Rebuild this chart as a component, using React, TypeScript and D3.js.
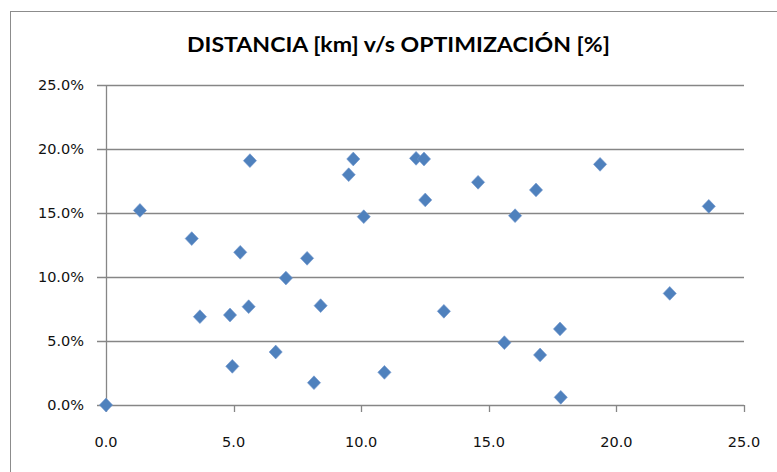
import React from "react";
import * as d3 from "d3";

const distanceKm: number[] = [
  0, 1.33, 3.36, 5.26, 7.88, 7.05, 3.68, 4.86, 5.59, 8.41, 6.65, 4.95, 8.15, 5.64, 9.69, 9.51,
  12.15, 12.46, 14.58, 12.51, 10.1, 16.03, 13.24, 15.61, 10.91, 19.36, 16.85, 23.62, 22.09, 17.79,
  17.01, 17.82,
];
const optimizationPct: number[] = [
  0, 15.2, 13.0, 11.93, 11.46, 9.92, 6.9, 7.03, 7.68, 7.76, 4.14, 3.02, 1.74, 19.09, 19.22, 17.99,
  19.27, 19.22, 17.4, 16.02, 14.71, 14.79, 7.32, 4.87, 2.55, 18.8, 16.8, 15.52, 8.72, 5.94, 3.91,
  0.6,
];
const xTicks: number[] = [0, 5, 10, 15, 20, 25];
const yTicks: number[] = [0, 5, 10, 15, 20, 25];
const title = "DISTANCIA [km] v/s OPTIMIZACIÓN [%]";

const W = 777;
const H = 472;
const plot = { left: 106, right: 744, top: 85, bottom: 405 };

export default function App() {
  const x = d3.scaleLinear().domain([0, 25]).range([plot.left, plot.right]);
  const y = d3.scaleLinear().domain([0, 25]).range([plot.bottom, plot.top]);
  const diamond = d3.symbol().type(d3.symbolDiamond2).size(110)();
  const points = distanceKm.map((d, i) => ({ d, p: optimizationPct[i] }));
  const axisColor = "#868686";
  const font = "'DejaVu Sans', sans-serif";

  return (
    <svg
      width={W}
      height={H}
      style={{ position: "absolute", left: 0, top: 0, background: "#fff" }}
    >
      <rect x={10.5} y={11.5} width={800} height={500} fill="#fff" stroke="#8c8c8c" strokeWidth={1} />
      <text
        x={398.5}
        y={52}
        textAnchor="middle"
        fontFamily="Lato, 'Open Sans', sans-serif"
        fontWeight="bold"
        fontSize={21}
        textLength={423}
        lengthAdjust="spacingAndGlyphs"
        fill="#000"
      >
        {title}
      </text>
      {yTicks.map((t) => (
        <g key={"y" + t}>
          <line
            x1={plot.left - 9}
            x2={plot.right}
            y1={Math.round(y(t)) + 0.5}
            y2={Math.round(y(t)) + 0.5}
            stroke={axisColor}
            strokeWidth={1.3}
          />
          <text
            x={84}
            y={y(t) + 5}
            textAnchor="end"
            fontFamily={font}
            fontSize={14.5}
            fill="#111"
          >
            {t.toFixed(1) + "%"}
          </text>
        </g>
      ))}
      <line
        x1={plot.left + 0.5}
        x2={plot.left + 0.5}
        y1={plot.top}
        y2={plot.bottom}
        stroke={axisColor}
        strokeWidth={1.3}
      />
      {xTicks.map((t) => (
        <g key={"x" + t}>
          <line
            x1={Math.round(x(t)) + 0.5}
            x2={Math.round(x(t)) + 0.5}
            y1={plot.bottom}
            y2={plot.bottom + 7}
            stroke={axisColor}
            strokeWidth={1.3}
          />
          <text
            x={x(t)}
            y={447}
            textAnchor="middle"
            fontFamily={font}
            fontSize={14.5}
            fill="#111"
          >
            {t.toFixed(1)}
          </text>
        </g>
      ))}
      {points.map((pt, i) => (
        <path
          key={i}
          d={diamond || ""}
          transform={`translate(${x(pt.d)},${y(pt.p)}) scale(1,1.05)`}
          fill="#4F81BD"
          stroke="#6f95cc"
          strokeWidth={0.6}
        />
      ))}
    </svg>
  );
}
